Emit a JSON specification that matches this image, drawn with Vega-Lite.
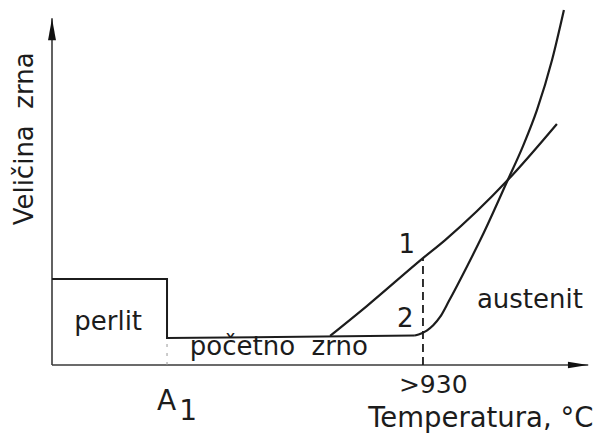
{
  "$schema": "https://vega.github.io/schema/vega-lite/v6.json",
  "width": 540,
  "height": 355,
  "padding": {"left": 52, "top": 10, "right": 6, "bottom": 71},
  "autosize": {"type": "none"},
  "background": "white",
  "config": {"view": {"stroke": null}, "text": {"font": "DejaVu Sans", "color": "#1c1c1c"}},
  "datasets": {
    "box": [
      {"x": 0, "y": 24.2, "o": 1},
      {"x": 21.3, "y": 24.2, "o": 2},
      {"x": 21.3, "y": 7.6, "o": 3},
      {"x": 67.2, "y": 8.3, "o": 4}
    ],
    "curves": [
      {"s": "1", "x": 51.5, "y": 8.2, "o": 1},
      {"s": "1", "x": 58.3, "y": 16.6, "o": 2},
      {"s": "1", "x": 68.7, "y": 30.1, "o": 3},
      {"s": "1", "x": 72.8, "y": 35.2, "o": 4},
      {"s": "1", "x": 84.4, "y": 52.1, "o": 5},
      {"s": "1", "x": 93.5, "y": 67.9, "o": 6},
      {"s": "2", "x": 67.2, "y": 8.3, "o": 1},
      {"s": "2", "x": 69.4, "y": 9.7, "o": 2},
      {"s": "2", "x": 70.6, "y": 11.2, "o": 3},
      {"s": "2", "x": 71.9, "y": 13.6, "o": 4},
      {"s": "2", "x": 73.5, "y": 18.0, "o": 5},
      {"s": "2", "x": 76.9, "y": 27.9, "o": 6},
      {"s": "2", "x": 79.6, "y": 36.1, "o": 7},
      {"s": "2", "x": 84.4, "y": 52.1, "o": 8},
      {"s": "2", "x": 87.2, "y": 61.6, "o": 9},
      {"s": "2", "x": 89.8, "y": 71.8, "o": 10},
      {"s": "2", "x": 92.6, "y": 85.9, "o": 11},
      {"s": "2", "x": 94.8, "y": 100, "o": 12}
    ],
    "axes": [
      {"x": 0, "y": 0, "x2": 0, "y2": 97.7},
      {"x": 0, "y": 0, "x2": 99.3, "y2": 0}
    ],
    "dashed": [
      {"x": 68.7, "y": 0, "y2": 30.1}
    ],
    "faint": [
      {"x": 21.3, "y": 0, "y2": 7.6}
    ],
    "labels": [
      {"label": "perlit", "x": 10.4, "y": 9.9},
      {"label": "početno\u00a0 zrno", "x": 42.0, "y": 2.8},
      {"label": "1", "x": 65.7, "y": 31.5},
      {"label": "2", "x": 65.4, "y": 10.7},
      {"label": "austenit", "x": 88.5, "y": 16.1}
    ]
  },
  "layer": [
    {
      "data": {"name": "axes"},
      "mark": {"type": "rule", "stroke": "#3a3a3a", "strokeWidth": 1.6},
      "encoding": {
        "x": {"field": "x", "type": "quantitative", "scale": {"domain": [0, 100], "nice": false, "zero": false}, "axis": null},
        "y": {"field": "y", "type": "quantitative", "scale": {"domain": [0, 100], "nice": false, "zero": false}, "axis": null},
        "x2": {"field": "x2"},
        "y2": {"field": "y2"}
      }
    },
    {
      "data": {"values": [{"x": 0, "y": 94.6}]},
      "mark": {"type": "point", "shape": "M0,-1L-0.36,1L0.36,1Z", "size": 484, "filled": true, "fill": "#111", "opacity": 1},
      "encoding": {
        "x": {"field": "x", "type": "quantitative", "axis": null},
        "y": {"field": "y", "type": "quantitative", "axis": null}
      }
    },
    {
      "data": {"values": [{"x": 97.4, "y": 0}]},
      "mark": {"type": "point", "shape": "M1,0L-1,-0.32L-1,0.32Z", "size": 400, "filled": true, "fill": "#111", "opacity": 1},
      "encoding": {
        "x": {"field": "x", "type": "quantitative", "axis": null},
        "y": {"field": "y", "type": "quantitative", "axis": null}
      }
    },
    {
      "data": {"name": "dashed"},
      "mark": {"type": "rule", "stroke": "#1c1c1c", "strokeWidth": 1.8, "strokeDash": [8, 5]},
      "encoding": {
        "x": {"field": "x", "type": "quantitative", "axis": null},
        "y": {"field": "y", "type": "quantitative", "axis": null},
        "y2": {"field": "y2"}
      }
    },
    {
      "data": {"name": "faint"},
      "mark": {"type": "rule", "stroke": "#999", "strokeWidth": 1, "strokeDash": [3, 6]},
      "encoding": {
        "x": {"field": "x", "type": "quantitative", "axis": null},
        "y": {"field": "y", "type": "quantitative", "axis": null},
        "y2": {"field": "y2"}
      }
    },
    {
      "data": {"name": "box"},
      "mark": {"type": "line", "stroke": "#1c1c1c", "strokeWidth": 2, "interpolate": "linear"},
      "encoding": {
        "x": {"field": "x", "type": "quantitative", "axis": null},
        "y": {"field": "y", "type": "quantitative", "axis": null},
        "order": {"field": "o", "type": "quantitative"}
      }
    },
    {
      "data": {"name": "curves"},
      "mark": {"type": "line", "stroke": "#1c1c1c", "strokeWidth": 2.2, "interpolate": "monotone"},
      "encoding": {
        "x": {"field": "x", "type": "quantitative", "axis": null},
        "y": {"field": "y", "type": "quantitative", "axis": null},
        "detail": {"field": "s", "type": "nominal"},
        "order": {"field": "o", "type": "quantitative"}
      }
    },
    {
      "data": {"name": "labels"},
      "mark": {"type": "text", "fontSize": 26, "align": "center", "baseline": "alphabetic"},
      "encoding": {
        "x": {"field": "x", "type": "quantitative", "axis": null},
        "y": {"field": "y", "type": "quantitative", "axis": null},
        "text": {"field": "label"}
      }
    },
    {
      "data": {"values": [{"label": ">930", "x": 70.6, "y": -7.9}]},
      "mark": {"type": "text", "fontSize": 25, "align": "center", "baseline": "alphabetic"},
      "encoding": {
        "x": {"field": "x", "type": "quantitative", "axis": null},
        "y": {"field": "y", "type": "quantitative", "axis": null},
        "text": {"field": "label"}
      }
    },
    {
      "data": {"values": [{"label": "A", "x": 21.2, "y": -12.7}, {"label": "1", "x": 25.2, "y": -15.5}]},
      "mark": {"type": "text", "fontSize": 28, "align": "center", "baseline": "alphabetic"},
      "encoding": {
        "x": {"field": "x", "type": "quantitative", "axis": null},
        "y": {"field": "y", "type": "quantitative", "axis": null},
        "text": {"field": "label"}
      }
    },
    {
      "data": {"values": [{"label": "Temperatura, °C", "x": 79.4, "y": -17.5}]},
      "mark": {"type": "text", "fontSize": 27.5, "align": "center", "baseline": "alphabetic"},
      "encoding": {
        "x": {"field": "x", "type": "quantitative", "axis": null},
        "y": {"field": "y", "type": "quantitative", "axis": null},
        "text": {"field": "label"}
      }
    },
    {
      "data": {"values": [{"label": "Veličina\u00a0 zrna", "x": -3.5, "y": 63.7}]},
      "mark": {"type": "text", "fontSize": 26, "align": "center", "baseline": "alphabetic", "angle": 270},
      "encoding": {
        "x": {"field": "x", "type": "quantitative", "axis": null},
        "y": {"field": "y", "type": "quantitative", "axis": null},
        "text": {"field": "label"}
      }
    }
  ]
}
